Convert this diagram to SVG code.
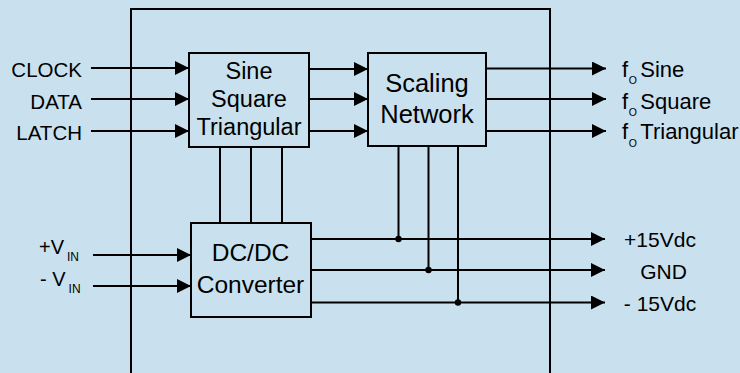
<svg xmlns="http://www.w3.org/2000/svg" width="740" height="373" viewBox="0 0 740 373">
<defs>
<style>
.bg{fill:#C9E1EE}
.box{fill:#C9E1EE;stroke:#000;stroke-width:2}
.ln{fill:none;stroke:#000;stroke-width:2}
.ar{fill:none;stroke:#000;stroke-width:2;marker-end:url(#ah)}
.t{font-family:"Liberation Sans",Arial,sans-serif;fill:#000}
.dot{fill:#000}
</style>
<marker id="ah" markerUnits="userSpaceOnUse" markerWidth="14" markerHeight="14" refX="14" refY="7" orient="auto">
<path d="M0,0 L14,7 L0,14 z" fill="#000"/>
</marker>
</defs>
<rect class="bg" x="0" y="0" width="740" height="373"/>
<g id="enclosure">
<rect class="ln" x="131" y="9" width="419" height="380"/>
</g>
<g id="connectors">
<line class="ar" x1="91" y1="68" x2="189" y2="68"/>
<line class="ar" x1="91" y1="99" x2="189" y2="99"/>
<line class="ar" x1="91" y1="131" x2="189" y2="131"/>
<line class="ar" x1="309" y1="69" x2="368" y2="69"/>
<line class="ar" x1="309" y1="99" x2="368" y2="99"/>
<line class="ar" x1="309" y1="131" x2="368" y2="131"/>
<line class="ar" x1="486" y1="68.5" x2="606" y2="68.5"/>
<line class="ar" x1="486" y1="99" x2="606" y2="99"/>
<line class="ar" x1="486" y1="131" x2="606" y2="131"/>
<line class="ln" x1="220" y1="147" x2="220" y2="223"/>
<line class="ln" x1="251" y1="147" x2="251" y2="223"/>
<line class="ln" x1="282" y1="147" x2="282" y2="223"/>
<line class="ar" x1="93" y1="255" x2="191" y2="255"/>
<line class="ar" x1="93" y1="286" x2="191" y2="286"/>
<line class="ar" x1="311" y1="239" x2="605" y2="239"/>
<line class="ar" x1="311" y1="270" x2="605" y2="270"/>
<line class="ar" x1="311" y1="302.5" x2="605" y2="302.5"/>
<line class="ln" x1="398.5" y1="146" x2="398.5" y2="239"/>
<line class="ln" x1="428.5" y1="146" x2="428.5" y2="270"/>
<line class="ln" x1="458" y1="146" x2="458" y2="302.5"/>
<circle class="dot" cx="398.5" cy="239" r="3.2"/>
<circle class="dot" cx="428.5" cy="270" r="3.2"/>
<circle class="dot" cx="458" cy="302.5" r="3.2"/>
</g>
<g id="waveform">
<rect class="box" x="189" y="53" width="120" height="94"/>
<text class="t" font-size="23.5" text-anchor="middle" x="249" y="79.3">Sine</text>
<text class="t" font-size="23.5" text-anchor="middle" x="249" y="107.3">Square</text>
<text class="t" font-size="23.5" text-anchor="middle" x="249" y="135">Triangular</text>
</g>
<g id="scaling">
<rect class="box" x="368" y="53" width="118" height="93"/>
<text class="t" font-size="25.5" text-anchor="middle" x="427" y="91.7">Scaling</text>
<text class="t" font-size="25.5" text-anchor="middle" x="427" y="123.3">Network</text>
</g>
<g id="dcdc">
<rect class="box" x="191" y="223" width="120" height="94"/>
<text class="t" font-size="24.5" text-anchor="middle" x="250.5" y="261.3">DC/DC</text>
<text class="t" font-size="24.5" text-anchor="middle" x="250.5" y="293">Converter</text>
</g>
<g id="inputs">
<text class="t" font-size="20.5" text-anchor="end" x="82" y="76.8">CLOCK</text>
<text class="t" font-size="20.5" text-anchor="end" x="82" y="109">DATA</text>
<text class="t" font-size="20.5" text-anchor="end" x="82" y="140">LATCH</text>
<text class="t" font-size="20" x="39" y="254.3">+V<tspan font-size="12" dx="3" dy="7">IN</tspan></text>
<text class="t" font-size="20" x="40" y="285.7">- V<tspan font-size="12" dx="3" dy="7.5">IN</tspan></text>
</g>
<g id="outputs">
<text class="t" font-size="22" x="622" y="76.5">f<tspan font-size="10.5" dx="0.5" dy="7.5">O</tspan><tspan dx="3.5" dy="-7.5">Sine</tspan></text>
<text class="t" font-size="22" x="622" y="108.5">f<tspan font-size="10.5" dx="0.5" dy="7.5">O</tspan><tspan dx="3.5" dy="-7.5">Square</tspan></text>
<text class="t" font-size="22" x="622" y="139">f<tspan font-size="10.5" dx="0.5" dy="7.5">O</tspan><tspan dx="3.5" dy="-7.5">Triangular</tspan></text>
<text class="t" font-size="21" text-anchor="middle" x="660" y="246.7">+15Vdc</text>
<text class="t" font-size="21" text-anchor="middle" x="663.5" y="279">GND</text>
<text class="t" font-size="21" text-anchor="middle" x="660" y="310.7">- 15Vdc</text>
</g>
</svg>
